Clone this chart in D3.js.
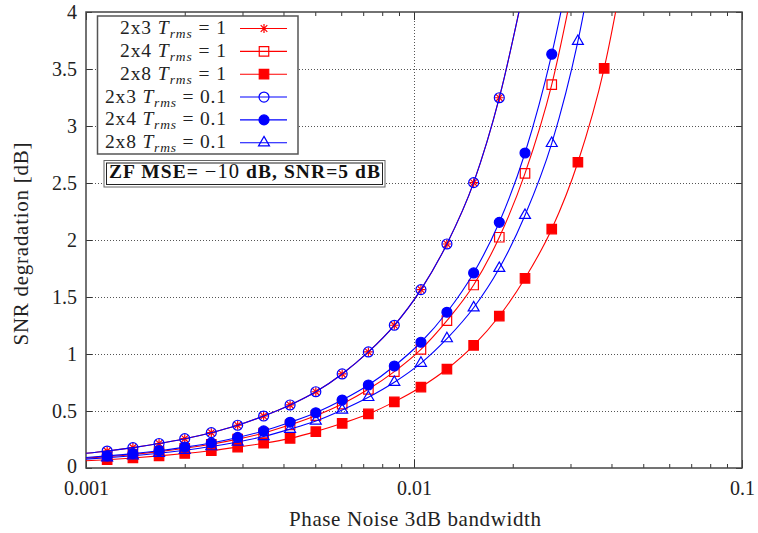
<!DOCTYPE html>
<html><head><meta charset="utf-8">
<script src="https://cdn.jsdelivr.net/npm/d3@7"></script>
<style>body{margin:0;background:#fff;overflow:hidden}</style>
</head><body><svg id="c" width="758" height="533"></svg>
<script>
// ---- data ----
const bandwidth = [0.000963,0.00116,0.00139,0.00167,0.00200,0.00241,0.00290,0.00348,0.00419,0.00502,0.00604,0.00726,0.00871,0.0105,0.0126,0.0152,0.0182,0.0218,0.0263,0.0316,0.0380,0.0456];
const snr2x3T1  = [0.124,0.149,0.179,0.215,0.257,0.310,0.375,0.456,0.553,0.669,0.825,1.018,1.252,1.565,1.965,2.503,3.248,4.25];
const snr2x4T1  = [0.083,0.100,0.119,0.144,0.173,0.208,0.253,0.307,0.379,0.459,0.561,0.690,0.845,1.040,1.292,1.605,2.024,2.585,3.363,4.45];
const snr2x8T1  = [0.061,0.073,0.088,0.106,0.127,0.152,0.183,0.217,0.260,0.319,0.392,0.474,0.580,0.710,0.868,1.076,1.333,1.664,2.096,2.682,3.506,4.70];
const snr2x3T01 = [0.124,0.149,0.179,0.215,0.257,0.310,0.375,0.456,0.553,0.669,0.825,1.018,1.252,1.565,1.965,2.503,3.248,4.25];
const snr2x4T01 = [0.088,0.106,0.126,0.152,0.183,0.220,0.268,0.325,0.401,0.485,0.596,0.728,0.895,1.103,1.366,1.711,2.155,2.763,3.630,4.75];
const snr2x8T01 = [0.075,0.090,0.108,0.130,0.156,0.188,0.228,0.277,0.341,0.412,0.509,0.620,0.752,0.920,1.135,1.406,1.752,2.217,2.848,3.743,5.00];
const seriesNames = ["2x3","2x4","2x8","2x3","2x4","2x8"];
const seriesTrms  = ["1","1","1","0.1","0.1","0.1"];
const yTicks = [0,0.5,1,1.5,2,2.5,3,3.5,4];
const yTickLabels = ["0","0.5","1","1.5","2","2.5","3","3.5","4"];
const xTicks = [0.001,0.01,0.1];
const xTickLabels = ["0.001","0.01","0.1"];
const xMinor = [0.002,0.003,0.004,0.005,0.006,0.007,0.008,0.009,0.02,0.03,0.04,0.05,0.06,0.07,0.08,0.09];
const xTitle = "Phase Noise 3dB bandwidth";
const yTitle = "SNR degradation [dB]";

// ---- layout ----
const W=758,H=533, L=86,R=742,T=12,B=468;
const FONT="'Liberation Serif','Times New Roman',serif";
const RED="#ff0000", BLUE="#0000ff";
const svg=d3.select("#c");
const x=d3.scaleLog().domain([0.001,0.1]).range([L,R]);
const y=d3.scaleLinear().domain([0,4]).range([B,T]);

svg.append("defs").append("clipPath").attr("id","clip")
  .append("rect").attr("x",L).attr("y",T).attr("width",R-L).attr("height",B-T);

// grid
const grid=svg.append("g").attr("stroke","#555").attr("stroke-width",1).attr("stroke-dasharray","1,2");
grid.selectAll("line.h").data(yTicks.filter(v=>v>0&&v<4)).join("line")
  .attr("x1",L).attr("x2",R).attr("y1",d=>y(d)+0.5).attr("y2",d=>y(d)+0.5);
grid.selectAll("line.v").data([0.01]).join("line").attr("class","v")
  .attr("x1",d=>Math.round(x(d))+0.5).attr("x2",d=>Math.round(x(d))+0.5).attr("y1",T).attr("y2",B);

// axes
function styleAxis(g){g.select(".domain").remove();g.selectAll(".tick line").attr("stroke","#333");
  g.selectAll("text").attr("font-family",FONT).attr("font-size",20).attr("fill","#222");}
svg.append("g").attr("transform",`translate(0,${B})`)
  .call(d3.axisBottom(x).tickValues(xTicks).tickFormat((d,i)=>xTickLabels[i]).tickSize(-8).tickPadding(13)).call(styleAxis);
svg.append("g").attr("transform",`translate(0,${B})`)
  .call(d3.axisBottom(x).tickValues(xMinor).tickFormat("").tickSize(-4)).call(styleAxis);
svg.append("g").attr("transform",`translate(0,${T})`)
  .call(d3.axisTop(x).tickValues(xTicks).tickFormat("").tickSize(-8)).call(styleAxis);
svg.append("g").attr("transform",`translate(0,${T})`)
  .call(d3.axisTop(x).tickValues(xMinor).tickFormat("").tickSize(-4)).call(styleAxis);
const yAx=svg.append("g").attr("transform",`translate(${L},0)`)
  .call(d3.axisLeft(y).tickValues(yTicks).tickFormat((d,i)=>yTickLabels[i]).tickSize(-6).tickPadding(9)).call(styleAxis);
yAx.selectAll(".tick text").filter(d=>d===0).attr("dy","0.22em");
svg.append("g").attr("transform",`translate(${R},0)`)
  .call(d3.axisRight(y).tickValues(yTicks).tickFormat("").tickSize(-6)).call(styleAxis);

// frame
svg.append("rect").attr("x",L).attr("y",T).attr("width",R-L).attr("height",B-T)
  .attr("fill","none").attr("stroke","#444").attr("stroke-width",1.5);

// markers
function marker(g,type,color){
  if(type==="star"){
    g.append("path").attr("d","M-4.5,0H4.5M0,-4.5V4.5M-3.3,-3.3L3.3,3.3M-3.3,3.3L3.3,-3.3")
      .attr("stroke",color).attr("stroke-width",1.2).attr("fill","none");
  } else {
    const sym={sq:d3.symbolSquare,sqf:d3.symbolSquare,circ:d3.symbolCircle,circf:d3.symbolCircle,tri:d3.symbolTriangle}[type];
    const size={sq:90,sqf:90,circ:78,circf:78,tri:52}[type];
    const filled=type==="sqf"||type==="circf";
    g.append("path").attr("d",d3.symbol(sym,size)())
      .attr("fill",filled?color:"none").attr("stroke",color).attr("stroke-width",1.2);
  }
}
const series=[
  {v:snr2x3T1,c:RED,m:"star"},{v:snr2x4T1,c:RED,m:"sq"},{v:snr2x8T1,c:RED,m:"sqf"},
  {v:snr2x3T01,c:BLUE,m:"circ"},{v:snr2x4T01,c:BLUE,m:"circf"},{v:snr2x8T01,c:BLUE,m:"tri"}];
const plot=svg.append("g").attr("clip-path","url(#clip)");
const line=d3.line().x(d=>x(d[0])).y(d=>y(d[1])).curve(d3.curveMonotoneX);
series.forEach(s=>{
  const pts=s.v.map((v,i)=>[bandwidth[i],v]);
  plot.append("path").attr("d",line(pts)).attr("fill","none").attr("stroke",s.c).attr("stroke-width",1.1);
  pts.filter(p=>p[0]>=0.001&&p[1]<=4).forEach(p=>{
    marker(plot.append("g").attr("transform",`translate(${x(p[0])},${y(p[1])})`),s.m,s.c);
  });
});

// legend
const lg=svg.append("g");
lg.append("rect").attr("x",97.5).attr("y",16).attr("width",200.5).attr("height",138)
  .attr("fill","#fff").attr("stroke","#555").attr("stroke-width",1.5);
series.forEach((s,i)=>{
  const cy=28.5+i*22.85;
  const t=lg.append("text").attr("x",226).attr("y",cy+5.5).attr("text-anchor","end")
    .attr("font-family",FONT).attr("font-size",19.5).attr("fill","#222")
    .attr("textLength",seriesTrms[i]==="1"?106:121).attr("lengthAdjust","spacing");
  t.append("tspan").text(seriesNames[i]+" ");
  t.append("tspan").attr("font-style","italic").text("T");
  t.append("tspan").attr("font-style","italic").attr("font-size",13.5).attr("dy",4).text("rms");
  t.append("tspan").attr("dy",-4).text(" = "+seriesTrms[i]);
  lg.append("line").attr("x1",240).attr("x2",287).attr("y1",cy).attr("y2",cy).attr("stroke",s.c).attr("stroke-width",1.1);
  marker(lg.append("g").attr("transform",`translate(264,${cy})`),s.m,s.c);
});

// annotation box
const ab=svg.append("g");
ab.append("rect").attr("x",104).attr("y",160.5).attr("width",281).attr("height",26.5)
  .attr("fill","#fff").attr("stroke","#666").attr("stroke-width",1);
ab.append("rect").attr("x",106.5).attr("y",163).attr("width",276).attr("height",21.5)
  .attr("fill","none").attr("stroke","#222").attr("stroke-width",1);
const at=ab.append("text").attr("x",109).attr("y",178).attr("font-family",FONT).attr("font-size",19.5)
  .attr("fill","#111").attr("textLength",271).attr("lengthAdjust","spacing");
at.append("tspan").attr("font-weight","bold").text("ZF MSE= ");
at.append("tspan").attr("font-size",20.5).text("\u221210");
at.append("tspan").attr("font-weight","bold").text(" dB, SNR=5 dB");

// axis titles
svg.append("text").attr("x",415).attr("y",526).attr("text-anchor","middle")
  .attr("font-family",FONT).attr("font-size",21).attr("fill","#222")
  .attr("textLength",252).attr("lengthAdjust","spacing").text(xTitle);
svg.append("text").attr("transform","translate(28,244) rotate(-90)").attr("text-anchor","middle")
  .attr("font-family",FONT).attr("font-size",21).attr("fill","#222")
  .attr("textLength",203).attr("lengthAdjust","spacing").text(yTitle);
</script></body></html>
